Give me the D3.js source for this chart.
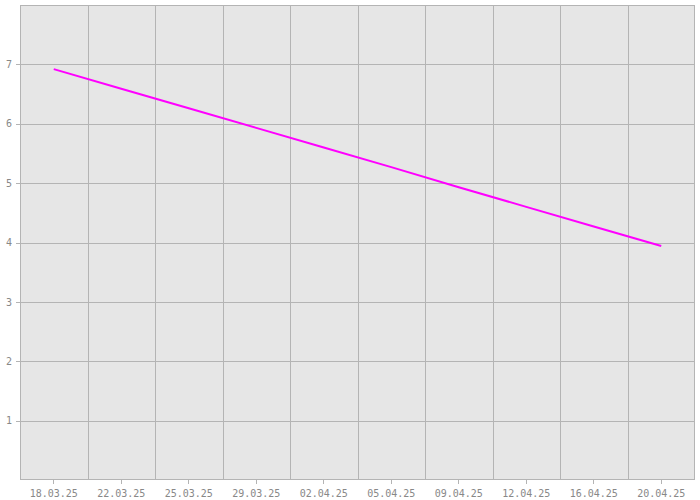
<!DOCTYPE html>
<html><head><meta charset="utf-8">
<script src="https://cdn.jsdelivr.net/npm/d3@7"></script>
<style>body{margin:0;background:#fff}svg{display:block}</style>
</head><body><svg id="c" width="700" height="500"></svg>
<script>
const categories = ["18.03.25","22.03.25","25.03.25","29.03.25","02.04.25","05.04.25","09.04.25","12.04.25","16.04.25","20.04.25"];
const values = [6.92,6.59,6.26,5.93,5.60,5.27,4.93,4.60,4.27,3.94];
const yTicks = [1,2,3,4,5,6,7];

const svg = d3.select("#c");
const L=20,T=5,R=695,B=480;
const x = d3.scaleBand().domain(categories).range([L,R]).padding(0);
const y = d3.scaleLinear().domain([0,8]).range([B,T]);
const grid="#b4b4b4", txt="#888";

svg.append("rect").attr("x",L).attr("y",T).attr("width",R-L).attr("height",B-T).attr("fill","#e6e6e6");
// vertical grid at band boundaries
const g = svg.append("g").attr("shape-rendering","crispEdges");
categories.slice(1).forEach(c=>{
  const xv=Math.round(x(c))+0.5;
  g.append("line").attr("x1",xv).attr("x2",xv).attr("y1",T).attr("y2",B).attr("stroke",grid);
});
yTicks.forEach(v=>{
  const yv=Math.round(y(v))+0.5;
  g.append("line").attr("x1",L).attr("x2",R).attr("y1",yv).attr("y2",yv).attr("stroke",grid);
});
g.append("rect").attr("x",L+0.5).attr("y",T+0.5).attr("width",R-L-1).attr("height",B-T-1).attr("fill","none").attr("stroke",grid);

// axes
const xa = svg.append("g").attr("transform",`translate(0,${B})`)
  .call(d3.axisBottom(x).tickSize(4).tickPadding(6).tickSizeOuter(0));
const ya = svg.append("g").attr("transform",`translate(${L},0)`)
  .call(d3.axisLeft(y).tickValues(yTicks).tickSize(4).tickPadding(4).tickSizeOuter(0).tickFormat(d3.format("d")));
[xa,ya].forEach(a=>{
  a.select(".domain").remove();
  a.selectAll(".tick line").attr("stroke",grid).attr("shape-rendering","crispEdges");
  a.selectAll("text").attr("fill",txt).style("font-family","'DejaVu Sans Mono', monospace").style("font-size","10px");
});

const line = d3.line().x((d,i)=>x(categories[i])+x.bandwidth()/2).y(d=>y(d));
svg.append("path").datum(values).attr("d",line).attr("fill","none").attr("stroke","#ff00ff").attr("stroke-width",2);
</script></body></html>
